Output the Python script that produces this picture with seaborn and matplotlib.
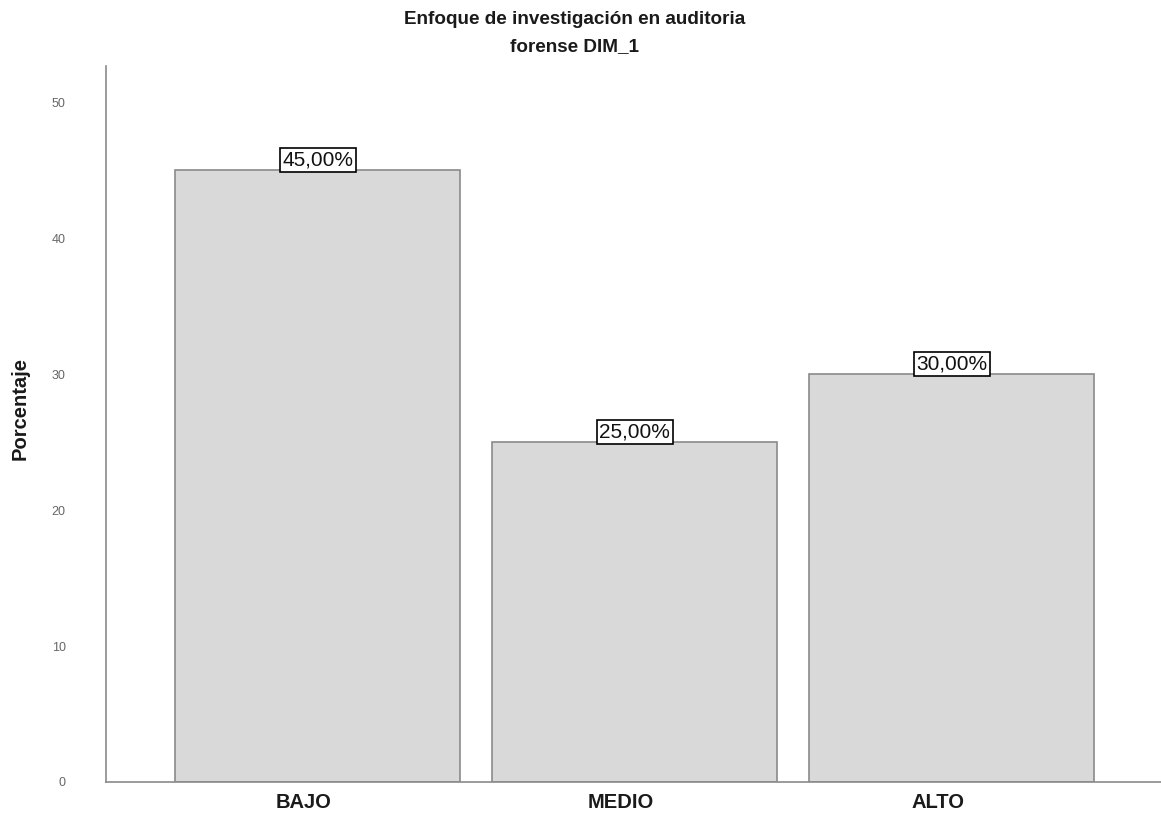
import matplotlib
matplotlib.use("Agg")
import matplotlib.pyplot as plt
import matplotlib.transforms as mtransforms
import seaborn as sns
import pandas as pd

categories = ["BAJO", "MEDIO", "ALTO"]
porcentajes = [45.0, 25.0, 30.0]
etiquetas = ["45,00%", "25,00%", "30,00%"]
yticks = [0, 10, 20, 30, 40, 50]

df = pd.DataFrame({"nivel": categories, "porcentaje": porcentajes})

sns.set_theme(style="white")
plt.rcParams["font.family"] = ["Liberation Sans", "DejaVu Sans"]

W, H = 1161, 817
fig = plt.figure(figsize=(W / 100, H / 100), dpi=100)
ax = fig.add_axes([106 / W, (H - 782) / H, (W - 106) / W, (782 - 65.6) / H])

sns.barplot(data=df, x="nivel", y="porcentaje", order=categories,
            color="#d9d9d9", saturation=1, width=0.9,
            edgecolor="#8a8a8a", linewidth=1.2, ax=ax)

ax.set_xlim(-0.667, 2.66)
ax.set_ylim(0, 52.7)
ax.set_yticks(yticks)
ax.set_yticklabels([str(t) for t in yticks], fontsize=9, color="#666666")
ax.tick_params(axis="y", length=0, pad=29)
ax.tick_params(axis="x", length=0, pad=8)

# category labels sit a little left of the bar centres
shift = mtransforms.ScaledTranslation(-14 / 100, 0, fig.dpi_scale_trans)
for lbl in ax.get_xticklabels():
    lbl.set_fontsize(14.5)
    lbl.set_fontweight("bold")
    lbl.set_color("#1a1a1a")
    lbl.set_transform(lbl.get_transform() + shift)

ax.set_xlabel("")
ax.set_ylabel("Porcentaje", fontsize=14.5, fontweight="bold", color="#1a1a1a")
ax.yaxis.set_label_coords((30 - 106) / (W - 106), (782 - 408) / (782 - 65.6))

for s in ["top", "right"]:
    ax.spines[s].set_visible(False)
for s in ["left", "bottom"]:
    ax.spines[s].set_color("#8a8a8a")
    ax.spines[s].set_linewidth(1.2)

for i, (v, t) in enumerate(zip(porcentajes, etiquetas)):
    ax.annotate(t, xy=(i, v), xytext=(0, 7.5), textcoords="offset points",
                ha="center", va="center", fontsize=15, color="#111111",
                bbox=dict(boxstyle="square,pad=0.12", fc="white",
                          ec="black", lw=1.2))

fig.text(575 / W, 1 - 20 / H, "Enfoque de investigación en auditoria",
         ha="center", va="center", fontsize=13.6, fontweight="bold",
         color="#1a1a1a")
fig.text(575 / W, 1 - 47 / H, "forense DIM_1",
         ha="center", va="center", fontsize=13.6, fontweight="bold",
         color="#1a1a1a")

fig.savefig("out.png", dpi=100)
